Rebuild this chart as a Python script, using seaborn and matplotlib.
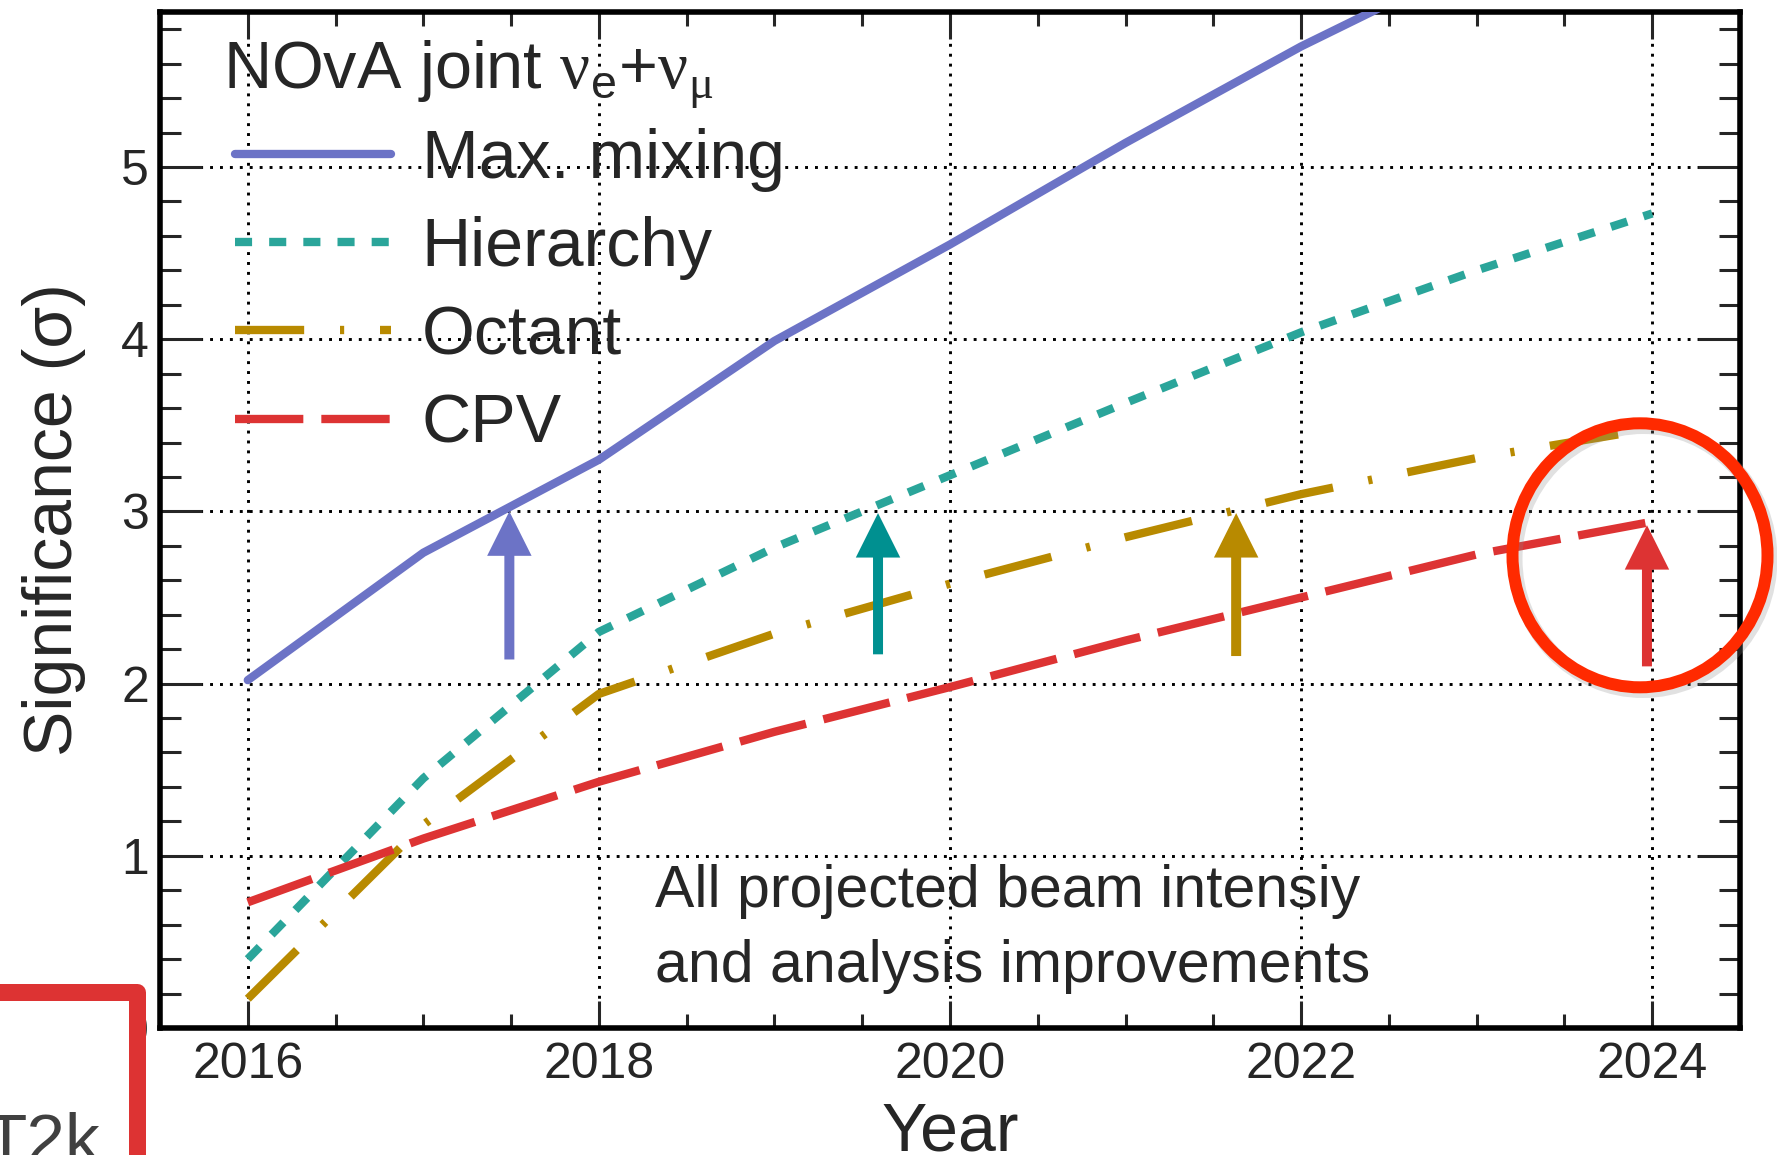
import matplotlib
matplotlib.use("Agg")
import matplotlib.pyplot as plt
import seaborn as sns
import numpy as np
import pandas as pd
from matplotlib.patches import Ellipse, Rectangle, FancyArrowPatch, ArrowStyle
from matplotlib.ticker import MultipleLocator

# ---------------- data ----------------
years = [2016, 2017, 2018, 2019, 2020, 2021, 2022, 2023, 2024]
max_mixing = [2.02, 2.76, 3.30, 3.99, 4.55, 5.14, 5.70, 6.20, 6.65]
hierarchy = [0.40, 1.45, 2.30, 2.79, 3.21, 3.63, 4.04, 4.40, 4.73]
octant = [0.17, 1.18, 1.94, 2.29, 2.58, 2.85, 3.10, 3.31, 3.48]
cpv = [0.73, 1.10, 1.43, 1.72, 1.98, 2.25, 2.50, 2.75, 2.94]
series_names = ["Max. mixing", "Hierarchy", "Octant", "CPV"]

arrow_x = [2017.49, 2019.59, 2021.63, 2023.97]
arrow_base = [2.14, 2.17, 2.16, 2.10]
arrow_tip = [3.00, 2.99, 2.99, 2.92]

# ---------------- style ----------------
sns.set_style("white")
plt.rcParams['font.family'] = ['Liberation Sans', 'DejaVu Sans']
plt.rcParams['mathtext.fontset'] = 'custom'
plt.rcParams['mathtext.rm'] = 'Liberation Sans'
plt.rcParams['mathtext.it'] = 'Liberation Sans:italic'
plt.rcParams['mathtext.bf'] = 'Liberation Sans:bold'
plt.rcParams['mathtext.sf'] = 'Liberation Serif'

W, H = 1777, 1155
fig = plt.figure(figsize=(W / 100, H / 100), dpi=100)
fig.patch.set_facecolor('white')
ax = fig.add_axes([160 / W, 1 - 1028 / H, 1580 / W, 1016 / H])

LW = 6.0
colors = ['#6c73c6', '#2aa59a', '#b88a00', '#dd3333']
styles = ['-', (0, (2.05, 2.05)), (0, (8.3, 4.3, 0.5, 4.3)), (0, (8.2, 2.16))]
values = [max_mixing, hierarchy, octant, cpv]

for name, vals, c, ls in zip(series_names, values, colors, styles):
    sns.lineplot(x=years, y=vals, color=c, linewidth=LW, linestyle=ls,
                 label=name, ax=ax, zorder=3)

ax.set_xlim(2015.5, 2024.5)
ax.set_ylim(0, 5.9)
ax.xaxis.set_major_locator(MultipleLocator(2))
ax.xaxis.set_minor_locator(MultipleLocator(0.5))
ax.yaxis.set_major_locator(MultipleLocator(1))
ax.yaxis.set_minor_locator(MultipleLocator(0.2))

ax.tick_params(axis='x', which='major', direction='in', length=19.5, width=2.2,
               top=True, bottom=True, labelsize=36, pad=10)
ax.tick_params(axis='x', which='minor', direction='in', length=10, width=2.2,
               top=True, bottom=True)
ax.tick_params(axis='y', which='major', direction='in', length=30, width=2.2,
               left=True, right=True, labelsize=36, pad=8)
ax.tick_params(axis='y', which='minor', direction='in', length=15, width=2.2,
               left=True, right=True)
for s in ax.spines.values():
    s.set_linewidth(4)
    s.set_color('k')
ax.grid(True, which='major', color='k', linestyle=(0, (1, 2.4)), linewidth=2.1)
ax.set_axisbelow(True)

ax.set_xlabel("Year", fontsize=49)
ax.xaxis.set_label_coords(0.5, -0.071)
ax.set_ylabel("Significance (σ)", fontsize=49)
ax.yaxis.set_label_coords(-0.047, 0.5)

# legend title + legend
ax.text(0.040, 0.925, r"NOvA joint $\mathsf{\nu}_{\mathrm{e}}$+$\mathsf{\nu}_{\mathsf{\mu}}$",
        transform=ax.transAxes, fontsize=48, va='baseline', zorder=4)
leg = ax.legend(loc='upper left', bbox_to_anchor=(0.0475, 0.886), frameon=False,
                fontsize=49, handlelength=2.29, handletextpad=0.45,
                labelspacing=0.356, borderpad=0, borderaxespad=0)

# annotation text
ax.text(2018.32, 0.70, "All projected beam intensiy", fontsize=42.5, va='baseline', zorder=4)
ax.text(2018.32, 0.27, "and analysis improvements", fontsize=42.5, va='baseline', zorder=4)

# arrows
arrow_colors = ['#6c73c6', '#009090', '#b88a00', '#dd3333']
for x, y0, y1, c in zip(arrow_x, arrow_base, arrow_tip, arrow_colors):
    ax.add_patch(FancyArrowPatch((x, y0), (x, y1),
                                 arrowstyle=ArrowStyle.Simple(head_length=32, head_width=32, tail_width=7.2),
                                 mutation_scale=1, color=c, lw=0, shrinkA=0, shrinkB=0, zorder=5))

# highlight circle with soft shadow
fig.add_artist(Ellipse((1643 / W, 1 - 559 / H), 255 / W, 264 / H, transform=fig.transFigure,
                       fill=False, ec='#888888', alpha=0.25, lw=14 * 0.72, zorder=9))
fig.add_artist(Ellipse((1640 / W, 1 - 555.3 / H), 255 / W, 264 / H, transform=fig.transFigure,
                       fill=False, ec='#ff2a00', lw=12 * 0.72, zorder=10))

# red box in the lower left corner
fig.add_artist(Rectangle((-0.05, -0.05), 136.5 / W + 0.05, (H - 991.5) / H + 0.05,
                         transform=fig.transFigure, fc='white', ec='#dd3333',
                         lw=17 * 0.72, joinstyle='round', zorder=10))
fig.text(-15 / W, 1 - 1162 / H, "T2k", fontsize=50, color='#404040',
         va='baseline', ha='left', zorder=11)

fig.savefig('out.png', dpi=100)
